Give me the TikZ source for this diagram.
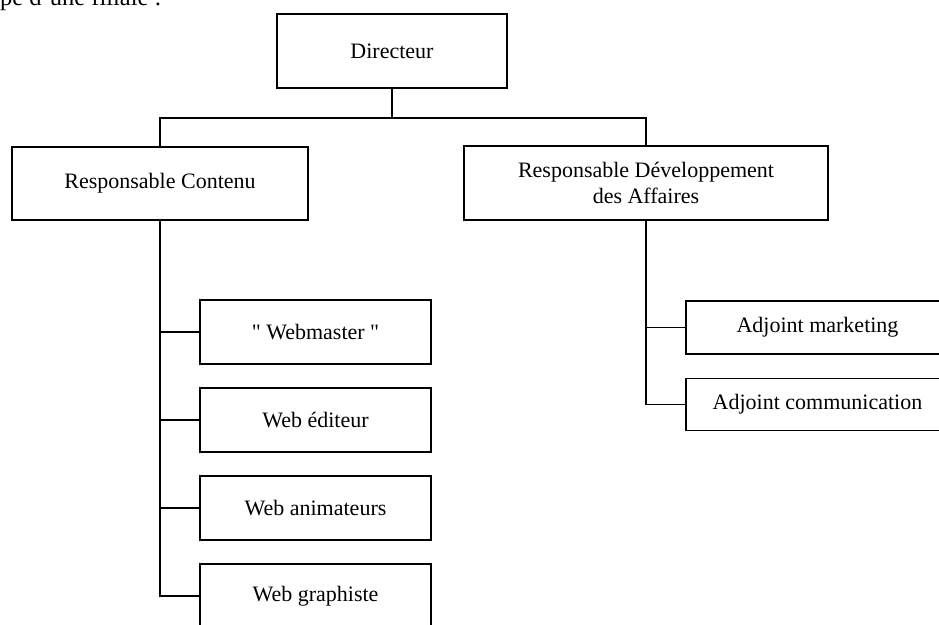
\documentclass[tikz,border=0pt]{standalone}
\usepackage{fontspec}
\setmainfont{Liberation Serif}
\newfontfamily\rawserif{Liberation Serif}
\begin{document}
\begin{tikzpicture}[x=1pt,y=-1pt,
  box/.style={draw,line width=1.8pt,rectangle,inner sep=0pt,align=center,font=\fontsize{22}{26}\selectfont},
  conn/.style={line width=1.8pt}]
\useasboundingbox (0,0) rectangle (939,624);
\node[anchor=base west,inner sep=0pt,font=\fontsize{24.5}{28}\selectfont] (title) at (0,5) {pe d'une filiale :};
\node[box,minimum width=230pt,minimum height=74pt] (dir) at (392,51) {Directeur};
\node[box,minimum width=296pt,minimum height=73pt] (rc) at (160,183.5) {Responsable Contenu};
\node[box,minimum width=364pt,minimum height=74pt] (rda) at (646,183) {Responsable Développement\\des Affaires};
\node[box,minimum width=231pt,minimum height=64pt] (w1) at (315.5,332) {{\rawserif\char34} Webmaster {\rawserif\char34}};
\node[box,minimum width=231pt,minimum height=64pt] (w2) at (315.5,420) {Web éditeur};
\node[box,minimum width=231pt,minimum height=64pt] (w3) at (315.5,508) {Web animateurs};
\node[box,minimum width=231pt,minimum height=64pt] (w4) at (315.5,596) {Web graphiste};
\node[box,minimum width=263pt,minimum height=53pt] (a1) at (817.5,327.5) {Adjoint marketing};
\node[box,minimum width=263pt,minimum height=52pt] (a2) at (817.5,404.5) {Adjoint communication};
\coordinate (bus) at (392,118);
\draw[conn] (dir.south) -- (bus);
\draw[conn] (rc.north) |- (bus);
\draw[conn] (rda.north) |- (bus);
\draw[conn] (rc.south) |- (w1.west);
\draw[conn] (rc.south) |- (w2.west);
\draw[conn] (rc.south) |- (w3.west);
\draw[conn] (rc.south) |- (w4.west);
\draw[conn] (rda.south) |- (a1.west);
\draw[conn] (rda.south) |- (a2.west);
\end{tikzpicture}
\end{document}
